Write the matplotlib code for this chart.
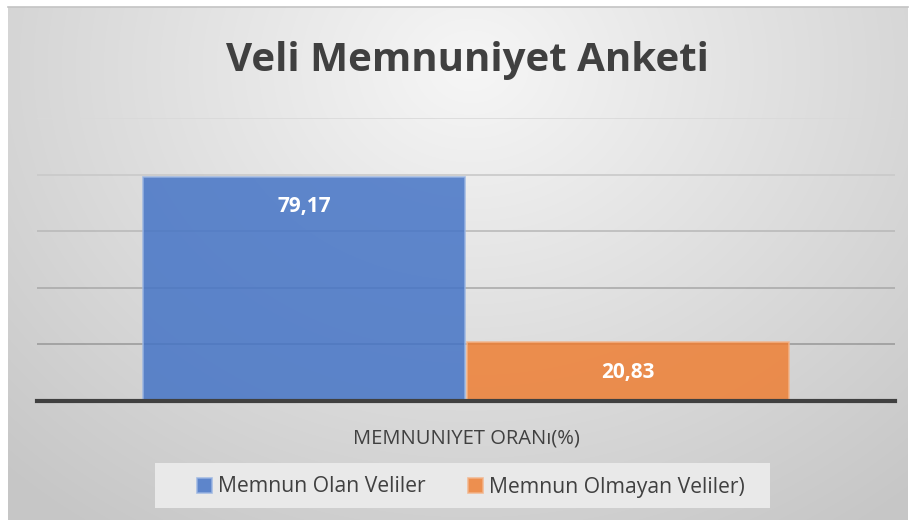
import numpy as np
import matplotlib
matplotlib.use("Agg")
import matplotlib.pyplot as plt
from matplotlib.ticker import MultipleLocator

# ---- data ----
title = "Veli Memnuniyet Anketi"
category = "MEMNUNIYET ORANı(%)"
series_names = ["Memnun Olan Veliler", "Memnun Olmayan Veliler)"]
series_values = [79.17, 20.83]
value_labels = ["79,17", "20,83"]
colors = ["#4574c6", "#ee7f34"]
edge_colors = ["#9ab5e2", "#f3b48a"]

W, H = 914, 520
fig = plt.figure(figsize=(W / 100, H / 100), dpi=100)
fig.patch.set_facecolor("white")

# radial gradient background
bg = fig.add_axes([8 / W, 0, (W - 8 - 6) / W, (H - 7) / H])
bg.set_axis_off()
yy, xx = np.mgrid[0:H, 0:W]
cx, cy = 470, 60
d = np.sqrt(((xx - cx) / 620.0) ** 2 + ((yy - cy) / 520.0) ** 2)
v = 0.965 - 0.17 * np.clip(d, 0, 1.1)
img = np.dstack([v, v, v])
bg.imshow(img, aspect="auto", extent=[0, 1, 0, 1], origin="upper")
bg.set_xlim(0, 1)
bg.set_ylim(0, 1)
fig.add_artist(plt.Line2D([8 / W, 1 - 6 / W], [1 - 6.5 / H] * 2, color="#c4c4c4", lw=1.2))

# main axes
x0, x1 = 37, 895
ybot, ytop = 401, 118
ax = fig.add_axes([x0 / W, (H - ybot) / H, (x1 - x0) / W, (ybot - ytop) / H])
ax.set_facecolor("none")
ax.set_xlim(-0.5, 0.5)
ax.set_ylim(0, 100)
ax.yaxis.set_major_locator(MultipleLocator(20))
ax.grid(axis="y", color="#a0a0a0", lw=1.2, zorder=1)
for gl, tv in zip(ax.get_ygridlines(), ax.get_yticks()):
    shade = 0.55 + 0.30 * (tv / 100.0)
    gl.set_color((shade, shade, shade))
    gl.set_zorder(1)
for s in ["left", "right", "top"]:
    ax.spines[s].set_visible(False)
ax.spines["bottom"].set_color("#404040")
ax.spines["bottom"].set_linewidth(3)
ax.spines["bottom"].set_zorder(5)
ax.tick_params(axis="y", left=False, labelleft=False)
ax.tick_params(axis="x", bottom=False, pad=16)

width = 0.3753
offsets = [-0.1885, 0.1885]
for off, val, col, ec, lab, name in zip(offsets, series_values, colors, edge_colors, value_labels, series_names):
    ax.bar(off, val, width=width, color=col, alpha=0.85, edgecolor=ec, linewidth=1.2, zorder=2, label=name)
    ax.annotate(lab, xy=(off, val), xytext=(0, -30), textcoords="offset pixels",
                ha="center", va="center", color="white", fontsize=15, fontweight="bold",
                family="Open Sans", zorder=6)

ax.set_xticks([0])
ax.set_xticklabels([category], fontsize=14.5, color="#404040", family="Open Sans")

fig.text(467 / W, 1 - 61 / H, title, ha="center", va="center", fontsize=29, fontweight="bold",
         color="#404040", family="Open Sans")

# legend band
fig.add_artist(plt.Rectangle((155 / W, 1 - 508 / H), (770 - 155) / W, 45 / H, transform=fig.transFigure,
                             facecolor="#e9e9e9", edgecolor="none", zorder=1))
leg = fig.legend(loc="center", bbox_to_anchor=(471 / W, 1 - 487 / H), ncol=2, frameon=False,
                 prop={"family": "Open Sans", "size": 15.2}, handlelength=0.7, handleheight=0.7,
                 handletextpad=0.3, columnspacing=2.0, labelcolor="#404040")
leg.set_zorder(3)

fig.savefig("out.png", dpi=100)
